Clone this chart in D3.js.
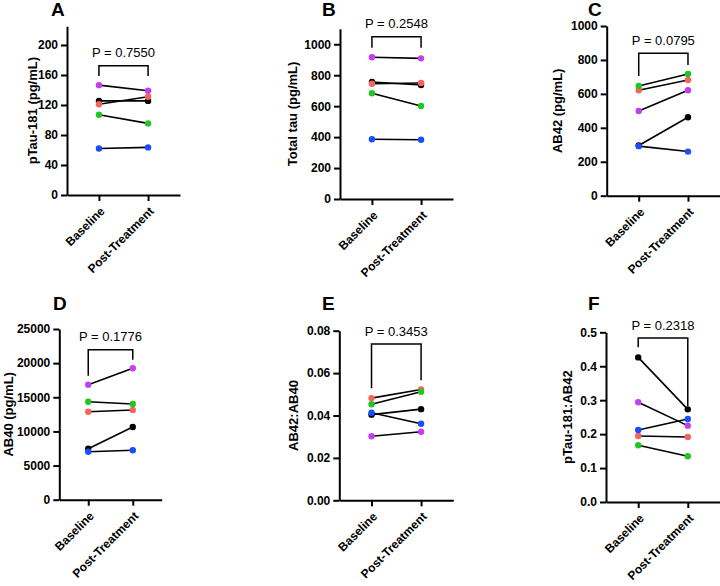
<!DOCTYPE html>
<html lang="en">
  <head>
    <meta charset="UTF-8" />
    <script src="https://cdn.jsdelivr.net/npm/d3@7/dist/d3.min.js"></script>
    <title>Paired biomarkers</title>
    <style>
      body { margin: 0; background: #fff; }
      svg { display: block; font-family: "Liberation Sans", Arial, sans-serif; }
    </style>
  </head>
  <body>
    <svg width="720" height="586"></svg>
    <script>
      // data; subjects in order: purple, black, red, green, blue
      var groups = ["Baseline", "Post-Treatment"];
      var subjects = ["S1", "S2", "S3", "S4", "S5"];

      var pTauBase = [146.5, 125.5, 121, 107, 62];
      var pTauPost = [139, 125.5, 131, 95.5, 63.5];
      var tauBase = [916, 756, 745, 683, 386];
      var tauPost = [909, 737, 750, 601, 383];
      var ab42Base = [499, 296, 621, 646, 292];
      var ab42Post = [621, 462, 682, 717, 260];
      var ab40Base = [16850, 7470, 12890, 14350, 7030];
      var ab40Post = [19250, 10650, 13140, 14020, 7235];
      var ratioBase = [0.0302, 0.0404, 0.0482, 0.0453, 0.0413];
      var ratioPost = [0.0323, 0.043, 0.0523, 0.0512, 0.0361];
      var pTauAbBase = [0.294, 0.426, 0.1945, 0.167, 0.212];
      var pTauAbPost = [0.225, 0.273, 0.1915, 0.1346, 0.2445];

      var panelLetters = ["A", "B", "C", "D", "E", "F"];
      var yLabels = ["pTau-181 (pg/mL)", "Total tau (pg/mL)", "AB42 (pg/mL)",
                     "AB40 (pg/mL)", "AB42:AB40", "pTau-181:AB42"];
      var pValues = ["0.7550", "0.2548", "0.0795", "0.1776", "0.3453", "0.2318"];
      var yMax = [225, 1100, 1000, 25000, 0.08, 0.5];
      var yTicks = [
        [0, 40, 80, 120, 160, 200],
        [0, 200, 400, 600, 800, 1000],
        [0, 200, 400, 600, 800, 1000],
        [0, 5000, 10000, 15000, 20000, 25000],
        [0, 0.02, 0.04, 0.06, 0.08],
        [0, 0.1, 0.2, 0.3, 0.4, 0.5]
      ];
      // bracket: top, left end, right end (data units)
      var bracketTop = [172.4, 1049, 839, 21970, 0.0737, 0.483];
      var bracketLeft = [158.7, 978, 705, 18160, 0.0529, 0.456];
      var bracketRight = [158.7, 978, 770, 20500, 0.0566, 0.283];

      var baseSets = [pTauBase, tauBase, ab42Base, ab40Base, ratioBase, pTauAbBase];
      var postSets = [pTauPost, tauPost, ab42Post, ab40Post, ratioPost, pTauAbPost];

      var color = d3.scaleOrdinal()
        .domain(subjects)
        .range(["#c33ff0", "#000000", "#f7645c", "#22c522", "#1c4dfa"]);

      // panel placement in pixels
      var layout = [
        { left: 67, right: 180, bottom: 195, top: 26.25, labelX: 32, letterX: 51, letterY: 16 },
        { left: 340, right: 453, bottom: 199, top: 28.8, labelX: 292, letterX: 322, letterY: 16 },
        { left: 606.7, right: 720, bottom: 195.7, top: 26, labelX: 557, letterX: 588, letterY: 16 },
        { left: 59.3, right: 161.7, bottom: 499.7, top: 329, labelX: 8, letterX: 53, letterY: 310 },
        { left: 339.3, right: 453.3, bottom: 500.3, top: 330.7, labelX: 293, letterX: 322, letterY: 310 },
        { left: 606, right: 720, bottom: 502, top: 332.3, labelX: 567, letterX: 588, letterY: 310 }
      ];
      var formats = [d3.format("d"), d3.format("d"), d3.format("d"),
                     d3.format("d"), d3.format(".2f"), d3.format(".1f")];

      var svg = d3.select("svg");
      var drawOrder = [1, 0, 2, 3, 4];

      panelLetters.forEach(function (letter, p) {
        var L = layout[p];
        var g = svg.append("g");

        var x = d3.scalePoint().domain(groups).range([L.left, L.right]).padding(0.65);
        var y = d3.scaleLinear().domain([0, yMax[p]]).range([L.bottom, L.top]);

        // axes
        var ya = g.append("g")
          .attr("transform", "translate(" + L.left + ",0)")
          .call(d3.axisLeft(y).tickValues(yTicks[p]).tickFormat(formats[p])
            .tickSize(6).tickPadding(3).tickSizeOuter(0));
        var xa = g.append("g")
          .attr("transform", "translate(0," + L.bottom + ")")
          .call(d3.axisBottom(x).tickSize(6).tickSizeOuter(0));

        [ya, xa].forEach(function (a) {
          a.select(".domain").attr("stroke", "#000").attr("stroke-width", 2);
          a.selectAll(".tick line").attr("stroke", "#000").attr("stroke-width", 2);
          a.selectAll("text")
            .attr("fill", "#000")
            .attr("font-size", 12)
            .attr("font-weight", "bold")
            .attr("font-family", "Liberation Sans, Arial, sans-serif");
        });

        xa.selectAll(".tick text")
          .attr("text-anchor", "end")
          .attr("x", 0).attr("y", 0)
          .attr("dy", "0.35em")
          .attr("transform", "translate(3,14) rotate(-45)");

        // y label
        g.append("text")
          .attr("transform", "translate(" + L.labelX + "," + (L.bottom + L.top) / 2 + ") rotate(-90)")
          .attr("text-anchor", "middle")
          .attr("dy", "0.35em")
          .attr("font-size", 13)
          .attr("font-weight", "bold")
          .text(yLabels[p]);

        // panel letter
        g.append("text")
          .attr("x", L.letterX)
          .attr("y", L.letterY)
          .attr("font-size", 19)
          .attr("font-weight", "bold")
          .text(letter);

        // bracket + p value
        var xb = x(groups[0]), xp = x(groups[1]);
        g.append("path")
          .attr("d", "M" + xb + "," + y(bracketLeft[p]) +
                     "V" + y(bracketTop[p]) +
                     "H" + xp +
                     "V" + y(bracketRight[p]))
          .attr("fill", "none")
          .attr("stroke", "#000")
          .attr("stroke-width", 1.5);
        g.append("text")
          .attr("x", (xb + xp) / 2)
          .attr("y", y(bracketTop[p]) - 8.5)
          .attr("text-anchor", "middle")
          .attr("font-size", 13)
          .text("P = " + pValues[p]);

        // paired lines
        var line = d3.line()
          .x(function (d) { return x(d.group); })
          .y(function (d) { return y(d.value); });

        var pairs = subjects.map(function (s, i) {
          return [
            { group: groups[0], value: baseSets[p][i], subject: s },
            { group: groups[1], value: postSets[p][i], subject: s }
          ];
        });

        g.selectAll(".pair")
          .data(pairs)
          .enter()
          .append("path")
          .attr("d", line)
          .attr("fill", "none")
          .attr("stroke", "#000")
          .attr("stroke-width", 1.6);

        var dots = [];
        drawOrder.forEach(function (i) {
          dots.push(pairs[i][0], pairs[i][1]);
        });
        g.selectAll(".dot")
          .data(dots)
          .enter()
          .append("circle")
          .attr("cx", function (d) { return x(d.group); })
          .attr("cy", function (d) { return y(d.value); })
          .attr("r", 3.2)
          .attr("fill", function (d) { return color(d.subject); });
      });
    </script>
  </body>
</html>
